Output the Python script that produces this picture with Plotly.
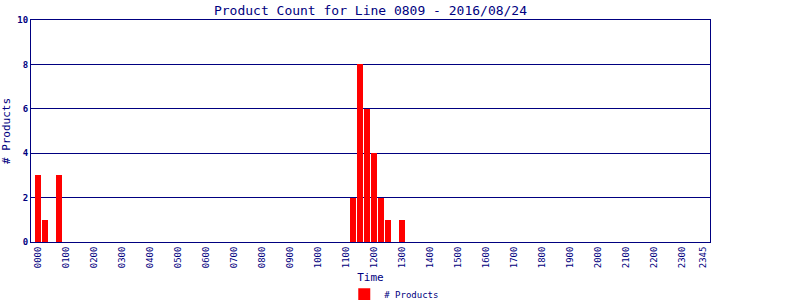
import plotly.graph_objects as go

# 15-minute bins for the day
times = [f"{h:02d}{m:02d}" for h in range(24) for m in (0, 15, 30, 45)]
counts = [0] * 96
nonzero = {"0000": 3, "0015": 1, "0045": 3,
           "1115": 2, "1130": 8, "1145": 6, "1200": 4, "1215": 2, "1230": 1,
           "1300": 1}
for k, v in nonzero.items():
    counts[times.index(k)] = v

tick_labels = [f"{h:02d}00" for h in range(24)] + ["2345"]
tick_positions = [times.index(t) for t in tick_labels]
y_ticks = [0, 2, 4, 6, 8, 10]

NAVY = "#000080"
FONT = "DejaVu Sans Mono"

fig = go.Figure()
fig.add_trace(go.Bar(
    x=list(range(len(times))), y=counts, name="# Products",
    marker=dict(color="#ff0000", line=dict(width=0)),
    width=0.86, showlegend=True,
))

fig.update_layout(
    width=800, height=300,
    margin=dict(l=31, r=90, t=20, b=58, autoexpand=False),
    paper_bgcolor="white", plot_bgcolor="white",
    font=dict(family=FONT, color=NAVY, size=9),
    title=dict(text="Product Count for Line 0809 - 2016/08/24",
               x=(31 + 710) / 2 / 800, xanchor="center", y=0.965, yanchor="middle",
               font=dict(family=FONT, size=13, color=NAVY)),
    bargap=0,
    legend=dict(orientation="h", x=0.535, xanchor="center", y=-0.17, yanchor="top",
                font=dict(family=FONT, size=9, color=NAVY),
                itemwidth=30),
)
fig.update_xaxes(
    range=[-1, 96], tickmode="array", tickvals=tick_positions, ticktext=tick_labels,
    tickangle=-90, tickfont=dict(family=FONT, size=9, color=NAVY),
    showline=True, linecolor=NAVY, linewidth=1, mirror=True,
    showgrid=False, zeroline=False, ticks="", automargin=False,
    title=dict(text="Time", font=dict(family=FONT, size=11, color=NAVY), standoff=6),
)
fig.update_yaxes(
    range=[0, 10], tickmode="array", tickvals=y_ticks,
    tickfont=dict(family=FONT, size=9, color=NAVY, weight="bold"),
    showline=True, linecolor=NAVY, linewidth=1, mirror=True,
    showgrid=True, gridcolor=NAVY, gridwidth=1, zeroline=False, ticks="", automargin=False,
    title=dict(text="# Products", font=dict(family=FONT, size=11, color=NAVY), standoff=4),
)

fig.write_html("out.html")
